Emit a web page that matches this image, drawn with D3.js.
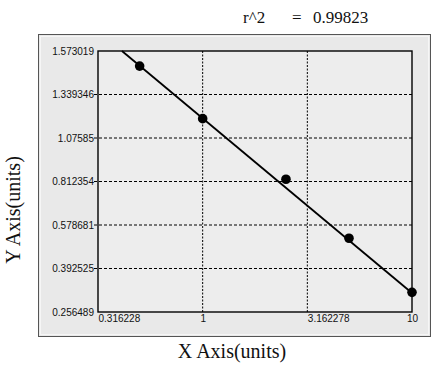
<!DOCTYPE html>
<html>
<head>
<meta charset="utf-8">
<script src="https://cdn.jsdelivr.net/npm/d3@7"></script>
<style>
  body { margin: 0; background: #fff; }
  .tick text { font-family: "Liberation Sans", Arial, sans-serif; font-size: 10px; fill: #111; }
  .title { font-family: "Liberation Serif", "Times New Roman", serif; fill: #111; }
</style>
</head>
<body>
<div id="graph"></div>
<script>
// standard points (x, y)
const xValues = [0.5, 1, 2.5, 5, 10];
const yValues = [1.492, 1.193, 0.826, 0.522, 0.318];

// fitted line end points
const fitX = [0.4116, 10];
const fitY = [1.573019, 0.316];

const xTicks = [0.316228, 1, 3.162278, 10];
const xTickLabels = ["0.316228", "1", "3.162278", "10"];
const yTicks = [0.256489, 0.392525, 0.578681, 0.812354, 1.07585, 1.339346, 1.573019];
const yTickLabels = ["0.256489", "0.392525", "0.578681", "0.812354", "1.07585", "1.339346", "1.573019"];

const rSquared = "0.99823";

let W = 446, H = 379;
let margin = {top: 51, right: 34, bottom: 67, left: 98};
let width = W - margin.left - margin.right,
    height = H - margin.top - margin.bottom;

let svg = d3.select("#graph").append("svg")
    .attr("width", W)
    .attr("height", H);

// outer panel
svg.append("rect")
    .attr("x", 38.5).attr("y", 34.5)
    .attr("width", 392).attr("height", 302)
    .attr("fill", "#e9e9e9")
    .attr("stroke", "#555").attr("stroke-width", 1);
svg.append("rect")
    .attr("x", 40.5).attr("y", 36.5)
    .attr("width", 388).attr("height", 298)
    .attr("fill", "none")
    .attr("stroke", "#f6f6f6").attr("stroke-width", 1);

let x = d3.scaleLog().domain([xTicks[0], xTicks[xTicks.length - 1]]).range([0, width]);
let y = d3.scaleLinear()
    .domain(yTicks)
    .range(yTicks.map((d, i) => height - i * height / (yTicks.length - 1)));

let g = svg.append("g")
    .attr("transform", "translate(" + margin.left + "," + margin.top + ")");

g.append("rect")
    .attr("width", width).attr("height", height)
    .attr("fill", "#ededed");

// grid
g.selectAll(".hgrid")
    .data(yTicks.slice(1, -1))
    .enter().append("line")
    .attr("x1", -4).attr("x2", width)
    .attr("y1", d => y(d)).attr("y2", d => y(d))
    .attr("stroke", "#000").attr("stroke-width", 1)
    .style("stroke-dasharray", "3,2");

g.selectAll(".vgrid")
    .data(xTicks.slice(1, -1))
    .enter().append("line")
    .attr("x1", d => x(d)).attr("x2", d => x(d))
    .attr("y1", 0).attr("y2", height)
    .attr("stroke", "#000").attr("stroke-width", 1)
    .style("stroke-dasharray", "2,1.5");

// axes labels
let yAxis = d3.axisLeft(y)
    .tickValues(yTicks)
    .tickSize(0).tickPadding(4)
    .tickFormat((d, i) => yTickLabels[i]);
let ya = g.append("g").call(yAxis);
ya.select(".domain").remove();

let xAxis = d3.axisBottom(x)
    .tickValues(xTicks)
    .tickSize(0).tickPadding(3)
    .tickFormat((d, i) => xTickLabels[i]);
let xa = g.append("g").attr("transform", "translate(0," + height + ")").call(xAxis);
xa.select(".domain").remove();
xa.selectAll(".tick text")
    .attr("text-anchor", (d, i) => (i === 0 || i === 2) ? "start" : "middle");

// fit line
let line = d3.line()
    .x(d => x(d[0]))
    .y(d => y(d[1]));
g.append("path")
    .datum(fitX.map((d, i) => [d, fitY[i]]))
    .attr("d", line)
    .attr("fill", "none")
    .attr("stroke", "#000")
    .attr("stroke-width", 1.8);

// points
g.selectAll(".pt")
    .data(xValues)
    .enter().append("circle")
    .attr("cx", d => x(d))
    .attr("cy", (d, i) => y(yValues[i]))
    .attr("r", 4.8)
    .attr("fill", "#000");

// frame
g.append("rect")
    .attr("width", width).attr("height", height)
    .attr("fill", "none")
    .attr("stroke", "#000").attr("stroke-width", 1.4);

// titles
let rt = svg.append("text").attr("class", "title")
    .attr("y", 23)
    .style("font-family", "'Liberation Serif', 'Times New Roman', serif")
    .style("font-size", "17px");
rt.append("tspan").attr("x", 243).text("r^2");
rt.append("tspan").attr("x", 292).text("=");
rt.append("tspan").attr("x", 313).text(rSquared);

svg.append("text").attr("class", "title")
    .attr("x", 232).attr("y", 358)
    .attr("text-anchor", "middle")
    .style("font-size", "20px")
    .text("X Axis(units)");

svg.append("text").attr("class", "title")
    .attr("transform", "translate(20,210) rotate(-90)")
    .attr("text-anchor", "middle")
    .style("font-size", "20px")
    .text("Y Axis(units)");
</script>
</body>
</html>
